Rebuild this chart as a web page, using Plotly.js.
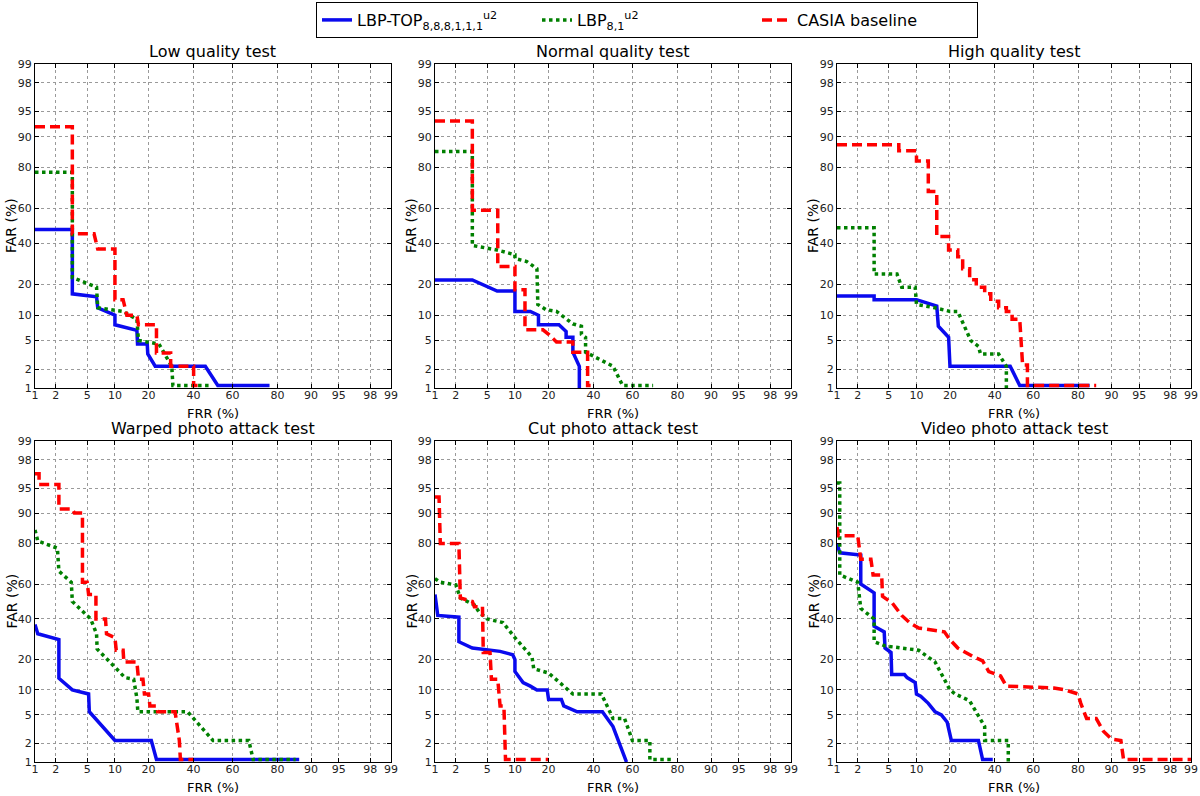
<!DOCTYPE html>
<html>
<head>
<meta charset="utf-8">
<script src="https://cdn.plot.ly/plotly-3.0.1.min.js"></script>
<style>html,body{margin:0;padding:0;background:#fff;}#chart{width:1200px;height:796px;}</style>
</head>
<body>
<div id="chart"></div>
<script>
// ---- Tick labels (percent) ----
const tickPercents = [1, 2, 5, 10, 20, 40, 60, 80, 90, 95, 98, 99];

// ---- Panel titles and axis titles ----
const panelTitles = ["Low quality test", "Normal quality test", "High quality test",
  "Warped photo attack test", "Cut photo attack test", "Video photo attack test"];
const xTitle = "FRR (%)";
const yTitle = "FAR (%)";

const seriesNames = ["LBP-TOP<sub>8,8,8,1,1,1</sub><sup>u2</sup>", "LBP<sub>8,1</sub><sup>u2</sup>", "CASIA baseline"];

// ---- Low quality test (FRR %, FAR %) ----
const lowTopX = [1, 3.3, 3.3, 6.4, 6.6, 10, 10, 16, 16.2, 19.5, 19.7, 22.5, 46, 52.5, 77];
const lowTopY = [48, 48, 16.5, 15.5, 12, 10, 7.8, 6.7, 4.5, 4.5, 3.3, 2.2, 2.2, 1.1, 1.1];
const lowLbpX = [1, 3.3, 3.3, 6.4, 6.6, 12, 16, 16.5, 19.5, 24, 29.5, 30, 49];
const lowLbpY = [78, 78, 23, 19, 12, 11, 9, 5, 4.8, 4.5, 2.2, 1.1, 1.1];
const lowCasX = [1, 3.3, 3.3, 6, 6.6, 10, 10, 12, 13, 16, 16.5, 23, 23, 29, 29, 40, 40, 42];
const lowCasY = [92.3, 92.3, 45.5, 45.5, 37, 37, 14.5, 14.5, 10, 10, 7.8, 7.8, 3.4, 3.4, 2.2, 2.2, 1.1, 1.1];

// ---- Normal quality test ----
const normTopX = [1, 3.3, 6.5, 10, 10, 14, 16.5, 16.5, 24, 27, 27, 30, 30, 33, 33];
const normTopY = [21.9, 21.9, 17.5, 17.5, 11, 11, 10, 7.8, 7.8, 6.5, 5.5, 5.5, 3.5, 2.2, 1];
const normLbpX = [1, 3.3, 3.3, 6.5, 10, 10, 13, 16, 16.3, 19, 23, 30, 34, 34, 36, 36, 50, 55, 70];
const normLbpY = [85.8, 85.8, 39, 36.5, 34, 32, 30.5, 27, 13, 11.5, 11, 8, 7.5, 6, 5.5, 3.5, 2.2, 1.1, 1.1];
const normCasX = [1, 3.3, 3.3, 6.6, 6.6, 10, 10, 12.5, 12.5, 18, 20, 23, 30, 30, 37, 37, 38.5];
const normCasY = [93.4, 93.4, 59, 59, 28, 28, 18, 18, 6.8, 6.8, 6, 4.8, 4.8, 3.5, 3.5, 1.1, 1.1];

// ---- High quality test ----
const highTopX = [1, 3.3, 3.3, 10, 15.5, 16, 19.5, 20, 48, 53, 84];
const highTopY = [15.7, 15.7, 14.5, 14.5, 12.5, 7.5, 5.5, 2.2, 2.2, 1.1, 1.1];
const highLbpX = [1, 3.3, 3.3, 6.2, 7, 9.7, 10, 15, 20, 23, 28.5, 32, 33, 42, 46, 46];
const highLbpY = [49, 49, 24.5, 24.5, 19, 19, 13, 12, 11, 11, 5, 4.2, 3.3, 3.3, 2.2, 1];
const highCasX = [1, 6.5, 6.5, 10, 10, 13, 13, 15.5, 15.5, 19.5, 19.5, 23, 23, 25, 25, 28, 28, 31, 31, 35, 35, 38, 38, 42, 42, 46, 46, 49, 49, 53, 54.5, 57, 57, 86];
const highCasY = [87.8, 87.8, 86, 86, 82.5, 82.5, 69, 69, 44, 44, 36.5, 36.5, 33, 33, 27, 27, 22, 22, 19, 19, 16.5, 16.5, 14, 14, 12, 12, 11, 11, 9, 9, 2.3, 2.3, 1.1, 1.1];

// ---- Warped photo attack test ----
const warpTopX = [1, 1.1, 2.2, 2.2, 3.3, 5.2, 5.3, 7, 10, 21, 23, 87];
const warpTopY = [37, 32, 29, 13.3, 10, 9, 5.5, 3.8, 2.2, 2.2, 1.1, 1.1];
const warpLbpX = [1, 1.1, 2.1, 2.2, 3.2, 3.3, 5.5, 6.4, 6.5, 10, 12.5, 15, 16, 16.3, 37, 50, 68, 70, 86];
const warpLbpY = [85, 81, 78, 67, 61, 50, 40, 32, 24.5, 17, 13.5, 13, 8, 5.5, 5.5, 2.2, 2.2, 1.1, 1.1];
const warpCasX = [1, 1.15, 1.15, 2.2, 2.2, 3.3, 3.5, 4.4, 4.4, 5, 5.2, 6.3, 6.3, 8, 8.2, 10, 10.3, 12, 12.2, 16, 16.5, 18, 18.5, 20, 20.5, 23, 23.5, 31, 33, 33.5, 40];
const warpCasY = [96.8, 96.8, 95.5, 95.5, 91, 91, 90, 90, 61, 61, 54, 54, 40, 40, 32, 30, 24, 24, 19, 19, 13, 13, 9, 9, 6.5, 6.5, 5.5, 5.5, 2.2, 1.1, 1.1];

// ---- Cut photo attack test ----
const cutTopX = [1, 1.1, 2.2, 2.2, 3.3, 7, 9.5, 10, 10, 12, 14, 16, 19.5, 20, 25, 26, 32, 44.5, 50, 57];
const cutTopY = [54, 42, 41, 28, 25, 23.5, 22, 20, 15.5, 12, 11, 10, 10, 7.8, 7.8, 6.5, 5.5, 5.5, 3.5, 1];
const cutLbpX = [1, 1.2, 2, 2.3, 3.5, 4, 5, 7.5, 10, 14.5, 15, 20, 30, 44, 50, 56, 60, 68.5, 68.5, 78];
const cutLbpY = [63, 61, 59.5, 52, 48, 44, 40, 38, 30, 21, 16.5, 15, 9, 9, 4.5, 4.5, 2.2, 2.2, 1.1, 1.1];
const cutCasX = [1, 1.15, 1.2, 2.2, 2.3, 3.3, 3.5, 4.4, 4.5, 5.4, 5.6, 6.6, 7, 7.7, 8, 20];
const cutCasY = [93.5, 93.5, 80, 80, 52, 50, 47, 47, 23, 23, 13, 13, 6.5, 6.5, 1.1, 1.1];

// ---- Video photo attack test ----
const vidTopX = [1, 1.1, 2.2, 2.2, 3.3, 3.3, 4.4, 4.5, 5.3, 5.4, 7.5, 8, 9.7, 10, 11, 13, 15, 17, 19, 20.5, 32, 34, 39];
const vidTopY = [80, 76, 75, 60, 55, 36, 33, 25, 23, 14.5, 14.5, 13.5, 12, 9, 8.5, 7, 5.5, 5, 4, 2.2, 2.2, 1.1, 1.1];
const vidLbpX = [1, 1.1, 1.1, 2, 2.2, 3.3, 3.3, 4.5, 10.5, 15, 20, 22, 28, 35, 35, 47, 47];
const vidLbpY = [95.7, 95.7, 65, 61, 46, 40, 28, 26, 24, 19, 10, 9, 7.5, 3.5, 2.2, 2.2, 1];
const vidCasX = [1, 1.05, 2, 2.2, 3, 3.2, 4.1, 4.2, 5.5, 7, 8.5, 10.5, 18, 20, 23, 26, 30, 34, 37, 43, 46, 70, 75, 80, 81, 83, 86, 88, 90, 92, 92.5, 99];
const vidCasY = [86, 83, 83, 73, 73, 65, 65, 53, 49, 42, 38, 35, 33, 29, 25, 23, 21, 19.5, 15.5, 14, 11, 10.5, 10, 9, 7, 4.5, 4.5, 3, 2.3, 2.2, 1.1, 1.1];

const panels = [
  [[lowTopX, lowTopY], [lowLbpX, lowLbpY], [lowCasX, lowCasY]],
  [[normTopX, normTopY], [normLbpX, normLbpY], [normCasX, normCasY]],
  [[highTopX, highTopY], [highLbpX, highLbpY], [highCasX, highCasY]],
  [[warpTopX, warpTopY], [warpLbpX, warpLbpY], [warpCasX, warpCasY]],
  [[cutTopX, cutTopY], [cutLbpX, cutLbpY], [cutCasX, cutCasY]],
  [[vidTopX, vidTopY], [vidLbpX, vidLbpY], [vidCasX, vidCasY]]
];

// inverse normal CDF (Acklam)
function probit(p) {
  const a = [-3.969683028665376e+01, 2.209460984245205e+02, -2.759285104469687e+02, 1.383577518672690e+02, -3.066479806614716e+01, 2.506628277459239e+00];
  const b = [-5.447609879822406e+01, 1.615858368580409e+02, -1.556989798598866e+02, 6.680131188771972e+01, -1.328068155288572e+01];
  const c = [-7.784894002430293e-03, -3.223964580411365e-01, -2.400758277161838e+00, -2.549732539343734e+00, 4.374664141464968e+00, 2.938163982698783e+00];
  const d = [7.784695709041462e-03, 3.224671290700398e-01, 2.445134137142996e+00, 3.754408661907416e+00];
  const pl = 0.02425, ph = 1 - pl;
  let q, r;
  if (p < pl) {
    q = Math.sqrt(-2 * Math.log(p));
    return (((((c[0]*q+c[1])*q+c[2])*q+c[3])*q+c[4])*q+c[5]) / ((((d[0]*q+d[1])*q+d[2])*q+d[3])*q+1);
  } else if (p <= ph) {
    q = p - 0.5; r = q * q;
    return (((((a[0]*r+a[1])*r+a[2])*r+a[3])*r+a[4])*r+a[5])*q / (((((b[0]*r+b[1])*r+b[2])*r+b[3])*r+b[4])*r+1);
  } else {
    q = Math.sqrt(-2 * Math.log(1 - p));
    return -(((((c[0]*q+c[1])*q+c[2])*q+c[3])*q+c[4])*q+c[5]) / ((((d[0]*q+d[1])*q+d[2])*q+d[3])*q+1);
  }
}
const tr = v => probit(v / 100);

const styles = [
  {color: '#0a0aee', dash: 'solid', width: 3.5},
  {color: '#008000', dash: '3.5px,3.5px', width: 3.5},
  {color: '#ff0000', dash: '10px,5px', width: 3.5}
];

const xDomains = [[35/1200, 391/1200], [435/1200, 791/1200], [837/1200, 1191/1200]];
const yDomains = [[1 - 388/796, 1 - 64/796], [1 - 762/796, 1 - 441/796]];

const tickvals = tickPercents.map(tr);
const ticktext = tickPercents.map(String);
const rng = [tr(1), tr(99)];

const traces = [];
const layout = {
  width: 1200, height: 796,
  margin: {l: 0, r: 0, t: 0, b: 0},
  paper_bgcolor: '#fff', plot_bgcolor: '#fff',
  font: {family: 'DejaVu Sans, sans-serif', color: '#000'},
  showlegend: true,
  legend: {
    orientation: 'h', x: 647/1200, xanchor: 'center', y: 1 - 2/796, yanchor: 'top',
    bordercolor: '#000', borderwidth: 1, bgcolor: '#fff',
    font: {size: 16, family: 'DejaVu Sans, sans-serif'},
    entrywidth: 175, entrywidthmode: 'pixels', itemwidth: 30
  },
  annotations: []
};

panels.forEach((panel, i) => {
  const n = i + 1;
  const xa = 'x' + (n === 1 ? '' : n), ya = 'y' + (n === 1 ? '' : n);
  panel.forEach((s, k) => {
    traces.push({
      x: s[0].map(tr), y: s[1].map(tr),
      xaxis: xa, yaxis: ya, mode: 'lines',
      name: seriesNames[k], showlegend: i === 0,
      line: {color: styles[k].color, dash: styles[k].dash, width: styles[k].width},
      hoverinfo: 'skip'
    });
  });
  const col = i % 3, row = Math.floor(i / 3);
  const axCommon = {
    range: rng, tickvals: tickvals, ticktext: ticktext,
    showline: true, linecolor: '#000', linewidth: 1, mirror: 'allticks',
    ticks: 'inside', ticklen: 4, tickcolor: '#000',
    showgrid: true, gridcolor: '#9a9a9a', griddash: 'dot', gridwidth: 1,
    zeroline: false, fixedrange: true, automargin: false,
    tickfont: {size: 11, color: '#222'}
  };
  layout['xaxis' + (n === 1 ? '' : n)] = Object.assign({}, axCommon, {domain: xDomains[col], anchor: ya, ticklabelstandoff: -3});
  layout['yaxis' + (n === 1 ? '' : n)] = Object.assign({}, axCommon, {domain: yDomains[row], anchor: xa});
  // panel title
  layout.annotations.push({
    text: panelTitles[i], xref: xa + ' domain', yref: ya + ' domain',
    x: 0.5, y: 1, xanchor: 'center', yanchor: 'bottom', yshift: 1,
    showarrow: false, font: {size: 16, color: '#000'}
  });
  // x axis title
  layout.annotations.push({
    text: xTitle, xref: xa + ' domain', yref: ya + ' domain',
    x: 0.5, y: 0, xanchor: 'center', yanchor: 'top', yshift: -17, borderpad: 0,
    showarrow: false, font: {size: 13, color: '#000'}
  });
  // y axis title
  layout.annotations.push({
    text: yTitle, xref: xa + ' domain', yref: ya + ' domain',
    x: 0, y: 0.5, xanchor: 'center', yanchor: 'middle', xshift: -24, borderpad: 0,
    textangle: -90, showarrow: false, font: {size: 14, color: '#000'}
  });
});

Plotly.newPlot('chart', traces, layout, {displayModeBar: false, staticPlot: true});
</script>
</body>
</html>
